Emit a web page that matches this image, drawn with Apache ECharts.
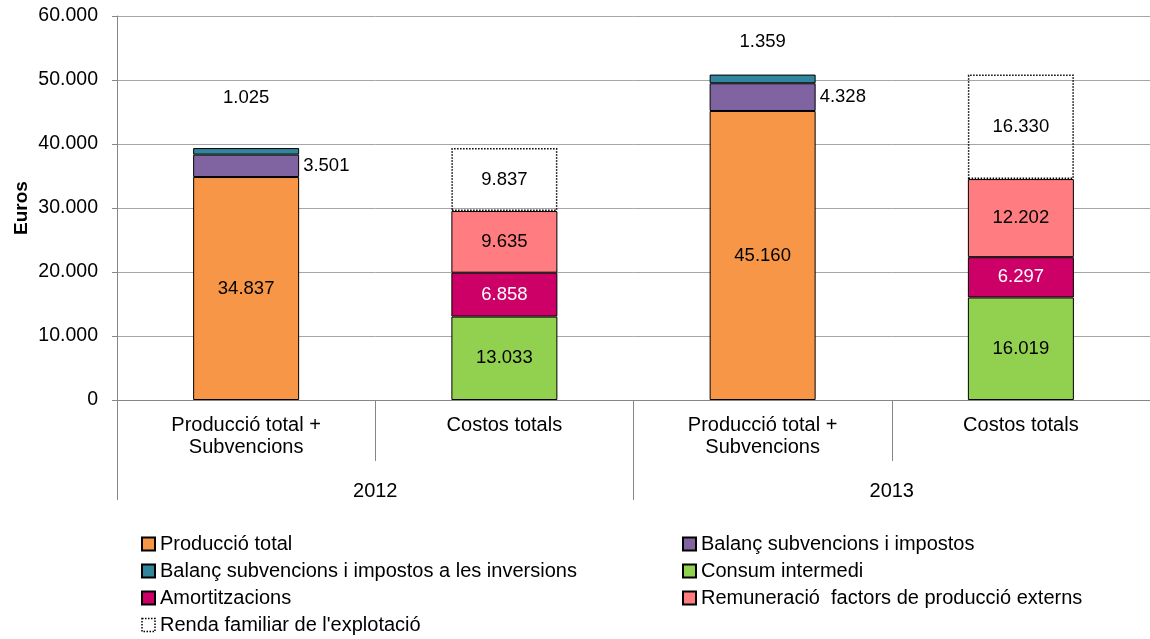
<!DOCTYPE html>
<html>
<head>
<meta charset="utf-8">
<script src="https://cdn.jsdelivr.net/npm/echarts@6/dist/echarts.min.js"></script>
<style>
  html, body { margin: 0; padding: 0; background: #fff; }
  #chart { width: 1150px; height: 639px; }
</style>
</head>
<body>
<div id="chart"></div>
<script>
// categories
var barCats = ['Producció total +\nSubvencions', 'Costos totals', 'Producció total +\nSubvencions', 'Costos totals'];
var years = ['2012', '2013'];

// series values (euros)
var produccio = [34837, null, 45160, null];
var balancSubv = [3501, null, 4328, null];
var balancInv = [1025, null, 1359, null];
var consum = [null, 13033, null, 16019];
var amortitz = [null, 6858, null, 6297];
var remuneracio = [null, 9635, null, 12202];
var renda = [null, 9837, null, 16330];

var FONT = 'Liberation Sans';
var GRAY = '#868686';
var TXT = 20;

function fmt(v) {
  return String(v).replace(/\B(?=(\d{3})+(?!\d))/g, '.');
}
function lbl(p) { return fmt(p.value); }

var border = { borderColor: '#000', borderWidth: 1 };
function mk(name, data, color, label, extra) {
  return {
    name: name,
    type: 'bar',
    stack: 'tot',
    barWidth: 106,
    data: data,
    itemStyle: Object.assign({ color: color }, border, extra || {}),
    label: Object.assign({
      show: true, position: 'inside', formatter: lbl,
      fontFamily: FONT, fontSize: 18.5, color: '#000'
    }, label || {})
  };
}

// the thin top segment gets its label placed above the bar
var invData = balancInv.map(function (v, i) {
  if (v == null) return null;
  return { value: v, label: { offset: [0, i === 0 ? -36 : -18] } };
});

var legendText = { fontFamily: FONT, fontSize: TXT, color: '#000', lineHeight: 20 };

var myChart = echarts.init(document.getElementById('chart'));
var option = {
  animation: false,
  textStyle: { fontFamily: FONT },
  grid: { left: 117, right: 0, top: 16, bottom: 239, containLabel: false },
  legend: [
    {
      orient: 'vertical', left: 141, top: 534, height: 120, itemGap: 7, padding: 0,
      itemWidth: 13, itemHeight: 13, icon: 'rect', textStyle: legendText,
      data: [
        'Producció total',
        'Balanç subvencions i impostos a les inversions',
        'Amortitzacions',
        { name: "Renda familiar de l'explotació", itemStyle: { borderType: 'dotted', borderColor: '#000', borderWidth: 1.5 } }
      ]
    },
    {
      orient: 'vertical', left: 682, top: 534, height: 120, itemGap: 7, padding: 0,
      itemWidth: 13, itemHeight: 13, icon: 'rect', textStyle: legendText,
      data: ['Balanç subvencions i impostos', 'Consum intermedi', 'Remuneració  factors de producció externs']
    }
  ],
  xAxis: [
    {
      type: 'category', data: barCats, gridIndex: 0, position: 'bottom',
      axisLine: { show: true, lineStyle: { color: GRAY } },
      axisTick: { show: true, length: 61, lineStyle: { color: GRAY } },
      axisLabel: { interval: 0, margin: 14, fontFamily: FONT, fontSize: TXT, lineHeight: 22, color: '#000' }
    },
    {
      type: 'category', data: years, gridIndex: 0, position: 'bottom',
      axisLine: { show: false },
      axisTick: { show: true, length: 100, lineStyle: { color: GRAY } },
      axisLabel: { interval: 0, margin: 81, fontFamily: FONT, fontSize: TXT, color: '#000' }
    }
  ],
  yAxis: {
    type: 'value', min: 0, max: 60000, interval: 10000,
    name: 'Euros', nameLocation: 'middle', nameGap: 86, nameRotate: 90,
    nameMoveOverlap: false,
    nameTextStyle: { fontFamily: FONT, fontSize: 19, fontWeight: 'bold', color: '#000' },
    axisLine: { show: true, lineStyle: { color: GRAY } },
    axisTick: { show: true, length: 5, lineStyle: { color: GRAY } },
    axisLabel: { margin: 19, fontFamily: FONT, fontSize: 19.5, color: '#000', formatter: fmt },
    splitLine: { lineStyle: { color: '#a6a6a6' } }
  },
  series: [
    mk('Producció total', produccio, '#F79646'),
    mk('Balanç subvencions i impostos', balancSubv, '#8064A2', { position: 'right', distance: 4 }),
    mk('Balanç subvencions i impostos a les inversions', invData, '#31859C', { position: 'top' }),
    mk('Consum intermedi', consum, '#92D050'),
    mk('Amortitzacions', amortitz, '#CC0066', { color: '#fff' }),
    mk('Remuneració  factors de producció externs', remuneracio, '#FF7C80'),
    mk("Renda familiar de l'explotació", renda, 'rgba(255,255,255,0)', null, { borderType: 'dotted', borderWidth: 1.5 })
  ]
};
myChart.setOption(option);
window.addEventListener('resize', function () { myChart.resize(); });
</script>
</body>
</html>
